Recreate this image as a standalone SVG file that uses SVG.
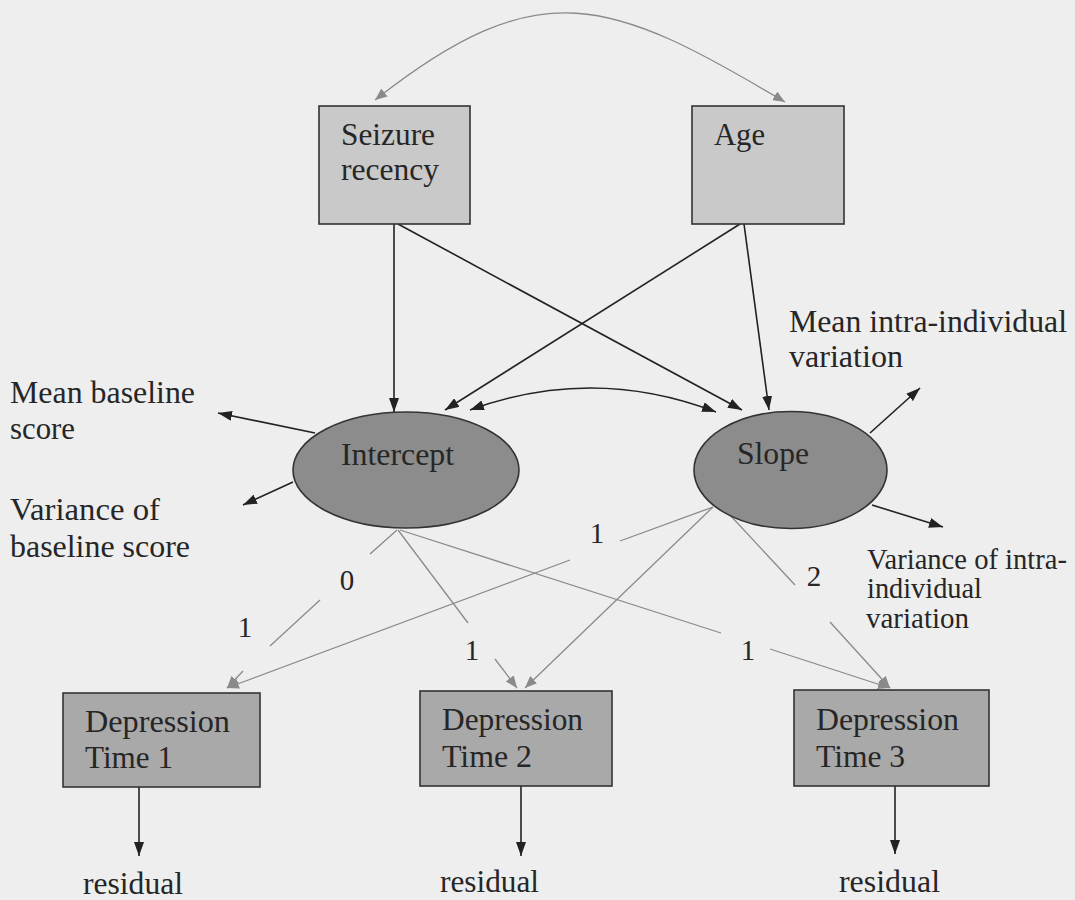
<svg xmlns="http://www.w3.org/2000/svg" width="1075" height="900" viewBox="0 0 1075 900">
<style>
  text { font-family: "Liberation Serif", "Times New Roman", serif; font-size: 31.5px; fill: #262626; }
  .small { font-size: 28.5px; }
  .num { text-anchor: middle; font-size: 29px; }
  .box1 { fill: #c9c9c9; stroke: #333; stroke-width: 1.6; }
  .box2 { fill: #a9a9a9; stroke: #333; stroke-width: 1.6; }
  .ell { fill: #8c8c8c; stroke: #333; stroke-width: 1.6; }
  .blk { fill: none; stroke: #222; stroke-width: 1.6; marker-end: url(#ab); }
  .gry { fill: none; stroke: #8a8a8a; stroke-width: 1.3; }
  .gra { marker-end: url(#ag); }
</style>
<defs>
  <marker id="ab" markerUnits="userSpaceOnUse" viewBox="0 0 14 10" markerWidth="14" markerHeight="10" refX="14" refY="5" orient="auto-start-reverse">
    <path d="M0,0 L14,5 L0,10 z" fill="#222"/>
  </marker>
  <marker id="ag" markerUnits="userSpaceOnUse" viewBox="0 0 12 10" markerWidth="12" markerHeight="10" refX="12" refY="5" orient="auto-start-reverse">
    <path d="M0,0 L12,5 L0,10 z" fill="#8a8a8a"/>
  </marker>
</defs>
<rect x="0" y="0" width="1075" height="900" fill="#eeeeee"/>

<g id="connectors">
  <path class="gry" d="M375,100 C540,-30 610,-2 785,102" marker-start="url(#ag)" marker-end="url(#ag)"/>
  <line class="blk" x1="394" y1="224" x2="394" y2="412"/>
  <line class="blk" x1="398" y1="224" x2="742" y2="410"/>
  <line class="blk" x1="740" y1="224" x2="445" y2="410"/>
  <line class="blk" x1="744" y1="224" x2="769" y2="410"/>
  <path class="blk" d="M470,410 Q593,365 716,412" marker-start="url(#ab)"/>
  <line class="blk" x1="315" y1="433" x2="218" y2="413"/>
  <line class="blk" x1="293" y1="482" x2="243" y2="505"/>
  <line class="blk" x1="870" y1="433" x2="920" y2="388"/>
  <line class="blk" x1="872" y1="505" x2="943" y2="527"/>
  <line class="gry" x1="397" y1="530" x2="370" y2="554"/>
  <line class="gry" x1="320" y1="600" x2="270" y2="646"/>
  <line class="gry gra" x1="243" y1="671" x2="227" y2="688"/>
  <line class="gry" x1="713" y1="507" x2="620" y2="541"/>
  <line class="gry gra" x1="570" y1="560" x2="227" y2="688"/>
  <line class="gry" x1="398" y1="530" x2="468" y2="623"/>
  <line class="gry gra" x1="495" y1="659" x2="517" y2="688"/>
  <line class="gry gra" x1="713" y1="507" x2="525" y2="688"/>
  <line class="gry" x1="400" y1="530" x2="721" y2="633"/>
  <line class="gry gra" x1="770" y1="649" x2="890" y2="688"/>
  <line class="gry" x1="730" y1="515" x2="795" y2="585"/>
  <line class="gry gra" x1="830" y1="622" x2="890" y2="688"/>
  <line class="blk" x1="139" y1="787" x2="139" y2="856"/>
  <line class="blk" x1="521" y1="786" x2="521" y2="856"/>
  <line class="blk" x1="895" y1="786" x2="895" y2="854"/>
</g>

<g id="seizure">
  <rect class="box1" x="319" y="106" width="151" height="118"/>
  <text x="341" y="145" textLength="94" lengthAdjust="spacingAndGlyphs">Seizure</text>
  <text x="341" y="180" textLength="98" lengthAdjust="spacingAndGlyphs">recency</text>
</g>
<g id="age">
  <rect class="box1" x="692" y="106" width="152" height="118"/>
  <text x="714" y="145" textLength="51" lengthAdjust="spacingAndGlyphs">Age</text>
</g>
<g id="intercept">
  <ellipse class="ell" cx="406" cy="470" rx="113" ry="58"/>
  <text x="341" y="465" textLength="113" lengthAdjust="spacingAndGlyphs">Intercept</text>
</g>
<g id="slope">
  <ellipse class="ell" cx="790.5" cy="470" rx="96.5" ry="58.5"/>
  <text x="737" y="464" textLength="72" lengthAdjust="spacingAndGlyphs">Slope</text>
</g>
<g id="mean-baseline">
  <text x="10" y="403" textLength="185" lengthAdjust="spacingAndGlyphs">Mean baseline</text>
  <text x="10" y="439" textLength="65" lengthAdjust="spacingAndGlyphs">score</text>
</g>
<g id="variance-baseline">
  <text x="10" y="520" textLength="150" lengthAdjust="spacingAndGlyphs">Variance of</text>
  <text x="10" y="557" textLength="180" lengthAdjust="spacingAndGlyphs">baseline score</text>
</g>
<g id="mean-intra">
  <text x="789" y="332" textLength="278" lengthAdjust="spacingAndGlyphs">Mean intra-individual</text>
  <text x="789" y="367" textLength="114" lengthAdjust="spacingAndGlyphs">variation</text>
</g>
<g id="variance-intra">
  <text class="small" x="867" y="569" textLength="200" lengthAdjust="spacingAndGlyphs">Variance of intra-</text>
  <text class="small" x="867" y="598" textLength="115" lengthAdjust="spacingAndGlyphs">individual</text>
  <text class="small" x="866" y="628" textLength="103" lengthAdjust="spacingAndGlyphs">variation</text>
</g>
<g id="loading-labels">
  <text class="num" x="347" y="590">0</text>
  <text class="num" x="245" y="637">1</text>
  <text class="num" x="597" y="543">1</text>
  <text class="num" x="472" y="660">1</text>
  <text class="num" x="748" y="660">1</text>
  <text class="num" x="814" y="586">2</text>
</g>
<g id="time1">
  <rect class="box2" x="63" y="693" width="197" height="94"/>
  <text x="85" y="732" textLength="145" lengthAdjust="spacingAndGlyphs">Depression</text>
  <text x="85" y="768" textLength="88" lengthAdjust="spacingAndGlyphs">Time 1</text>
</g>
<g id="time2">
  <rect class="box2" x="420" y="691" width="192" height="95"/>
  <text x="442" y="730" textLength="141" lengthAdjust="spacingAndGlyphs">Depression</text>
  <text x="442" y="767" textLength="90" lengthAdjust="spacingAndGlyphs">Time 2</text>
</g>
<g id="time3">
  <rect class="box2" x="794" y="690" width="195" height="96"/>
  <text x="816" y="730" textLength="143" lengthAdjust="spacingAndGlyphs">Depression</text>
  <text x="816" y="767" textLength="89" lengthAdjust="spacingAndGlyphs">Time 3</text>
</g>
<g id="residual1"><text x="83" y="894" textLength="100" lengthAdjust="spacingAndGlyphs">residual</text></g>
<g id="residual2"><text x="440" y="892" textLength="99" lengthAdjust="spacingAndGlyphs">residual</text></g>
<g id="residual3"><text x="839" y="892" textLength="101" lengthAdjust="spacingAndGlyphs">residual</text></g>
</svg>
